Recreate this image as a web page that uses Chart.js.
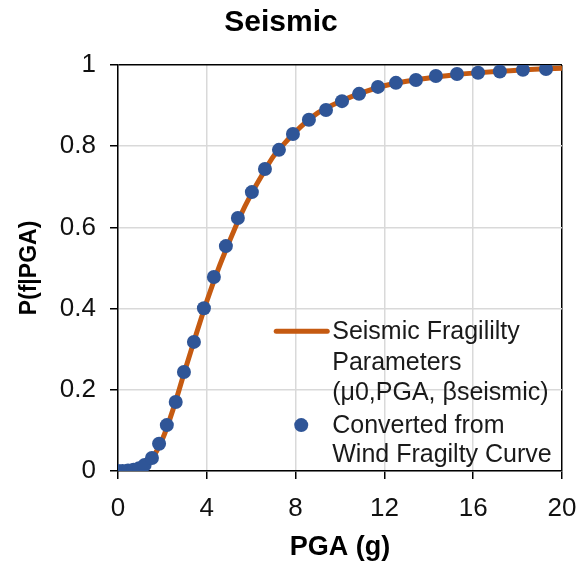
<!DOCTYPE html>
<html>
<head>
<meta charset="utf-8">
<script src="https://cdn.jsdelivr.net/npm/chart.js@4"></script>
<style>
  html, body { margin: 0; padding: 0; background: #fff; }
  #wrap { width: 584px; height: 573px; }
</style>
</head>
<body>
<div id="wrap"><canvas id="seismic"></canvas></div>
<script>
// fitted fragility curve (PGA in g -> probability of failure)
const curvePGA  = [0, 0.5, 1, 1.5, 2, 2.5, 3, 3.5, 4, 4.5, 5, 5.5, 6, 6.5, 7, 7.5, 8, 9, 10, 11, 12, 13, 14, 15, 16, 17, 18, 19, 20];
const curveProb = [0, 0.0005, 0.004, 0.028, 0.078, 0.155, 0.245, 0.333, 0.418, 0.495, 0.563, 0.627, 0.682, 0.73, 0.775, 0.807, 0.836, 0.882, 0.91, 0.932, 0.949, 0.96, 0.968, 0.975, 0.98, 0.984, 0.987, 0.99, 0.992];

// points converted from the wind fragility curve
const windPGA  = [0, 0.2, 0.45, 0.7, 0.95, 1.2, 1.53, 1.85, 2.2, 2.6, 2.97, 3.42, 3.87, 4.32, 4.86, 5.4, 6.03, 6.62, 7.25, 7.88, 8.6, 9.37, 10.09, 10.86, 11.71, 12.52, 13.42, 14.32, 15.27, 16.22, 17.2, 18.24, 19.28];
const windProb = [0, 0, 0.001, 0.003, 0.007, 0.015, 0.032, 0.067, 0.113, 0.170, 0.244, 0.318, 0.401, 0.478, 0.554, 0.623, 0.687, 0.744, 0.791, 0.830, 0.865, 0.889, 0.911, 0.929, 0.946, 0.956, 0.963, 0.973, 0.978, 0.981, 0.984, 0.988, 0.99];

const xTicks = [0, 4, 8, 12, 16, 20];
const yTicks = [0, 0.2, 0.4, 0.6, 0.8, 1];

const legendLines = [
    ['Seismic Fragililty', 'Parameters', '(μ0,PGA, βseismic)'],
    ['Converted from', 'Wind Fragilty Curve']
];

const FONT = '"Liberation Sans", Arial, sans-serif';
const ORANGE = '#c55a11';
const BLUE = '#2f5597';
const GRID = '#d9d9d9';

const toPoints = (xs, ys) => xs.map((x, i) => ({ x: x, y: ys[i] }));

// legend sits inside the plot, lower right
const insideLegend = {
    id: 'insideLegend',
    afterDatasetsDraw(chart) {
        const ctx = chart.ctx;
        const xs = chart.scales.x, ys = chart.scales.y;
        const textX = xs.getPixelForValue(9.65);
        ctx.save();
        ctx.font = '25px ' + FONT;
        ctx.fillStyle = '#1a1a1a';
        ctx.textBaseline = 'middle';
        ctx.textAlign = 'left';

        let y = ys.getPixelForValue(0.344);
        ctx.strokeStyle = ORANGE;
        ctx.lineWidth = 5;
        ctx.lineCap = 'round';
        ctx.beginPath();
        ctx.moveTo(textX - 56, y);
        ctx.lineTo(textX - 5, y);
        ctx.stroke();
        legendLines[0].forEach((t, i) => ctx.fillText(t, textX, y + 1 + i * 30.5));

        y = ys.getPixelForValue(0.113);
        ctx.fillStyle = BLUE;
        ctx.beginPath();
        ctx.arc(textX - 31, y, 7, 0, Math.PI * 2);
        ctx.fill();
        ctx.fillStyle = '#1a1a1a';
        legendLines[1].forEach((t, i) => ctx.fillText(t, textX, y + 1 + i * 28.5));
        ctx.restore();
    }
};

const ctx = document.getElementById('seismic').getContext('2d');
const seismicChart = new Chart(ctx, {
    type: 'scatter',
    data: {
        datasets: [
            {
                label: 'Converted from Wind Fragilty Curve',
                data: toPoints(windPGA, windProb),
                showLine: false,
                pointRadius: 7,
                pointBackgroundColor: BLUE,
                pointBorderWidth: 0,
                order: 1
            },
            {
                label: 'Seismic Fragililty Parameters (μ0,PGA, βseismic)',
                data: toPoints(curvePGA, curveProb),
                showLine: true,
                borderColor: ORANGE,
                borderWidth: 5,
                pointRadius: 0,
                cubicInterpolationMode: 'monotone',
                order: 2
            }
        ]
    },
    options: {
        responsive: true,
        maintainAspectRatio: false,
        animation: false,
        layout: { padding: { left: 0, right: 22, top: 0, bottom: 0 } },
        plugins: {
            legend: { display: false },
            tooltip: { enabled: false },
            title: {
                display: true,
                text: 'Seismic',
                color: '#000',
                font: { size: 30, family: FONT, weight: 'bold' },
                padding: { top: 5, bottom: 24 }
            }
        },
        scales: {
            x: {
                type: 'linear',
                min: 0,
                max: 20,
                afterBuildTicks: s => { s.ticks = xTicks.map(v => ({ value: v })); },
                afterFit: s => { s.height = 102; s.paddingLeft = 0; s.paddingRight = 0; },
                ticks: {
                    color: '#111',
                    padding: 14,
                    font: { size: 26, family: FONT }
                },
                grid: {
                    color: c => c.tick && c.tick.value === 20 ? '#000' : GRID,
                    lineWidth: 1.5,
                    tickColor: '#000',
                    tickLength: 8
                },
                border: { color: '#000', width: 1.5 },
                title: {
                    display: true,
                    text: 'PGA (g)',
                    color: '#000',
                    font: { size: 27, family: FONT, weight: 'bold' },
                    padding: { top: 0, bottom: 9 }
                }
            },
            y: {
                type: 'linear',
                min: 0,
                max: 1,
                afterBuildTicks: s => { s.ticks = yTicks.map(v => ({ value: v })); },
                afterFit: s => { s.width = 118; },
                ticks: {
                    color: '#111',
                    padding: 14,
                    font: { size: 26, family: FONT },
                    callback: v => String(+v.toFixed(1))
                },
                grid: {
                    color: c => c.tick && c.tick.value === 1 ? '#000' : GRID,
                    lineWidth: 1.5,
                    tickColor: '#000',
                    tickLength: 8
                },
                border: { color: '#000', width: 1.5 },
                title: {
                    display: true,
                    text: 'P(f|PGA)',
                    color: '#000',
                    font: { size: 23, family: FONT, weight: 'bold' },
                    padding: { top: 16, bottom: 0 }
                }
            }
        }
    },
    plugins: [insideLegend]
});
</script>
</body>
</html>
